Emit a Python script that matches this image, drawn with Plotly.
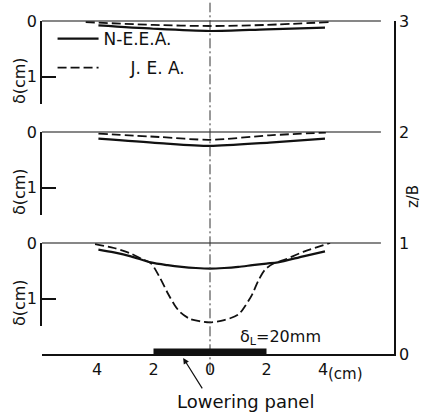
import plotly.graph_objects as go

# ---- data ----
panel_levels = [3, 2, 1]          # z/B of each panel's baseline
zb_ticks = [0, 1, 2, 3]
x_ticks = [-4, -2, 0, 2, 4]
x_ticklabels = ["4", "2", "0", "2", "4"]
delta_ticks = [0, 1]
lowering_panel_x = [-2, 2]

# panel z/B = 3
neea1_x = [-3.95, -2.0, 0.0, 2.0, 4.07]
neea1_d = [0.08, 0.14, 0.18, 0.15, 0.12]
jea1_x = [-4.4, -2.0, 0.0, 2.0, 4.2]
jea1_d = [0.02, 0.07, 0.09, 0.07, 0.02]

# panel z/B = 2
neea2_x = [-3.95, -1.8, 0.0, 2.1, 4.07]
neea2_d = [0.12, 0.20, 0.25, 0.19, 0.12]
jea2_x = [-3.95, -1.8, 0.0, 2.1, 4.1]
jea2_d = [0.03, 0.09, 0.14, 0.06, 0.01]

# panel z/B = 1
neea3_x = [-3.95, -3.4, -2.8, -2.1, -1.5, -1.0, -0.5, 0.0, 0.5, 1.0, 1.5, 2.0, 2.4, 3.3, 4.07]
neea3_d = [0.12, 0.17, 0.24, 0.35, 0.40, 0.43, 0.45, 0.46, 0.45, 0.43, 0.40, 0.37, 0.35, 0.24, 0.15]
jea3_x = [-4.07, -3.4, -2.8, -2.4, -2.1, -1.8, -1.5, -1.25, -1.05, -0.7, -0.35, 0.0,
          0.5, 1.0, 1.25, 1.5, 1.7, 1.95, 2.25, 2.6, 3.3, 4.25]
jea3_d = [0.02, 0.09, 0.19, 0.29, 0.36, 0.6, 0.9, 1.12, 1.25, 1.37, 1.41, 1.43,
          1.39, 1.29, 1.13, 0.92, 0.69, 0.48, 0.37, 0.31, 0.16, 0.0]

x_range = [-5.947, 6.513]
zb_range = [0, 3]
delta_range = [1.5, 0]
baseline_end = 6.05

FONT = "DejaVu Sans"
BLACK = "#111111"


def zb_to_paper(v):
    return (v - zb_range[0]) / (zb_range[1] - zb_range[0])


fig = go.Figure()

panels = [
    ("y2", neea1_x, neea1_d, jea1_x, jea1_d),
    ("y3", neea2_x, neea2_d, jea2_x, jea2_d),
    ("y4", neea3_x, neea3_d, jea3_x, jea3_d),
]
for i, (yax, nx, nd, jx, jd) in enumerate(panels):
    fig.add_trace(go.Scatter(x=nx, y=nd, yaxis=yax, mode="lines", name="N-E.E.A.",
                             legendgroup="neea", showlegend=(i == 0),
                             line=dict(color=BLACK, width=2.2, shape="spline", smoothing=0.8)))
    fig.add_trace(go.Scatter(x=jx, y=jd, yaxis=yax, mode="lines",
                             name="\u00a0\u00a0\u00a0\u00a0\u00a0J. E. A.",
                             legendgroup="jea", showlegend=(i == 0),
                             line=dict(color=BLACK, width=1.8, dash="9px,4px",
                                       shape="spline", smoothing=0.8)))

# axes
axis_common = dict(showgrid=False, zeroline=False, linecolor=BLACK, linewidth=1.5,
                   tickfont=dict(family=FONT, size=16, color=BLACK))
fig.update_layout(
    xaxis=dict(range=x_range, tickvals=x_ticks, ticktext=x_ticklabels, ticks="",
               showline=True, **axis_common),
    yaxis=dict(range=zb_range, domain=[0, 1], side="right", tickvals=zb_ticks, ticks="",
               showline=True, anchor="x", **axis_common),
)
for L, yname in zip(panel_levels, ["yaxis2", "yaxis3", "yaxis4"]):
    fig.layout[yname] = dict(
        domain=[zb_to_paper(L - 0.75), zb_to_paper(L)], range=delta_range,
        side="left", anchor="x", showline=True, ticks="inside", ticklen=14,
        tickwidth=1.5, tickcolor=BLACK, tickvals=delta_ticks,
        ticktext=[str(t) for t in delta_ticks], **axis_common)

shapes = []
for L in panel_levels:
    shapes.append(dict(type="line", xref="x", yref="paper", x0=x_range[0], x1=baseline_end,
                       y0=zb_to_paper(L), y1=zb_to_paper(L),
                       line=dict(color=BLACK, width=1.2)))
shapes.append(dict(type="line", xref="x", yref="paper", x0=0, x1=0, y0=-0.055, y1=1.055,
                   line=dict(color="#333333", width=1, dash="10px,3px,2px,3px")))
shapes.append(dict(type="rect", xref="x", yref="y", x0=lowering_panel_x[0],
                   x1=lowering_panel_x[1], y0=0, y1=0.05, fillcolor=BLACK,
                   line=dict(width=0)))

annotations = []
for yref in ["y2", "y3", "y4"]:
    annotations.append(dict(text="δ(cm)", xref="paper", yref=yref, x=-0.062, y=1.08,
                            xanchor="center", yanchor="middle",
                            textangle=-90, showarrow=False,
                            font=dict(family=FONT, size=16, color=BLACK)))
annotations += [
    dict(text="z/B", xref="paper", yref="paper", x=1.056, y=zb_to_paper(1.42),
         xanchor="center", yanchor="middle", textangle=-90, showarrow=False,
         font=dict(family=FONT, size=15, color=BLACK)),
    dict(text="δ<sub>L</sub>=20mm", xref="x", yref="paper", x=2.5, y=zb_to_paper(0.15),
         xanchor="center", yanchor="middle", showarrow=False,
         font=dict(family=FONT, size=16, color=BLACK)),
    dict(text="(cm)", xref="x", yref="paper", x=4.78, y=zb_to_paper(-0.18),
         xanchor="center", yanchor="middle", showarrow=False,
         font=dict(family=FONT, size=15, color=BLACK)),
    dict(text="Lowering panel", xref="x", yref="paper", x=1.24, y=zb_to_paper(-0.43),
         xanchor="center", yanchor="middle", showarrow=False,
         font=dict(family=FONT, size=18, color=BLACK)),
    dict(text="", xref="x", yref="paper", x=-0.95, y=zb_to_paper(-0.035), ax=20, ay=32,
         showarrow=True, arrowhead=2, arrowsize=1, arrowwidth=1.2, arrowcolor=BLACK),
]

fig.update_layout(
    width=421, height=415,
    margin=dict(l=42, r=27, t=18, b=61),
    paper_bgcolor="white", plot_bgcolor="white",
    shapes=shapes, annotations=annotations,
    font=dict(family=FONT, color=BLACK),
    legend=dict(x=0.03, y=1.0, xanchor="left", yanchor="top", bgcolor="rgba(0,0,0,0)",
                font=dict(family=FONT, size=17, color=BLACK), itemwidth=41,
                tracegroupgap=4, traceorder="grouped"),
)

fig.write_html("out.html", config={"displayModeBar": False},
               post_script="document.body.style.margin='0';document.body.style.overflow='hidden';")
